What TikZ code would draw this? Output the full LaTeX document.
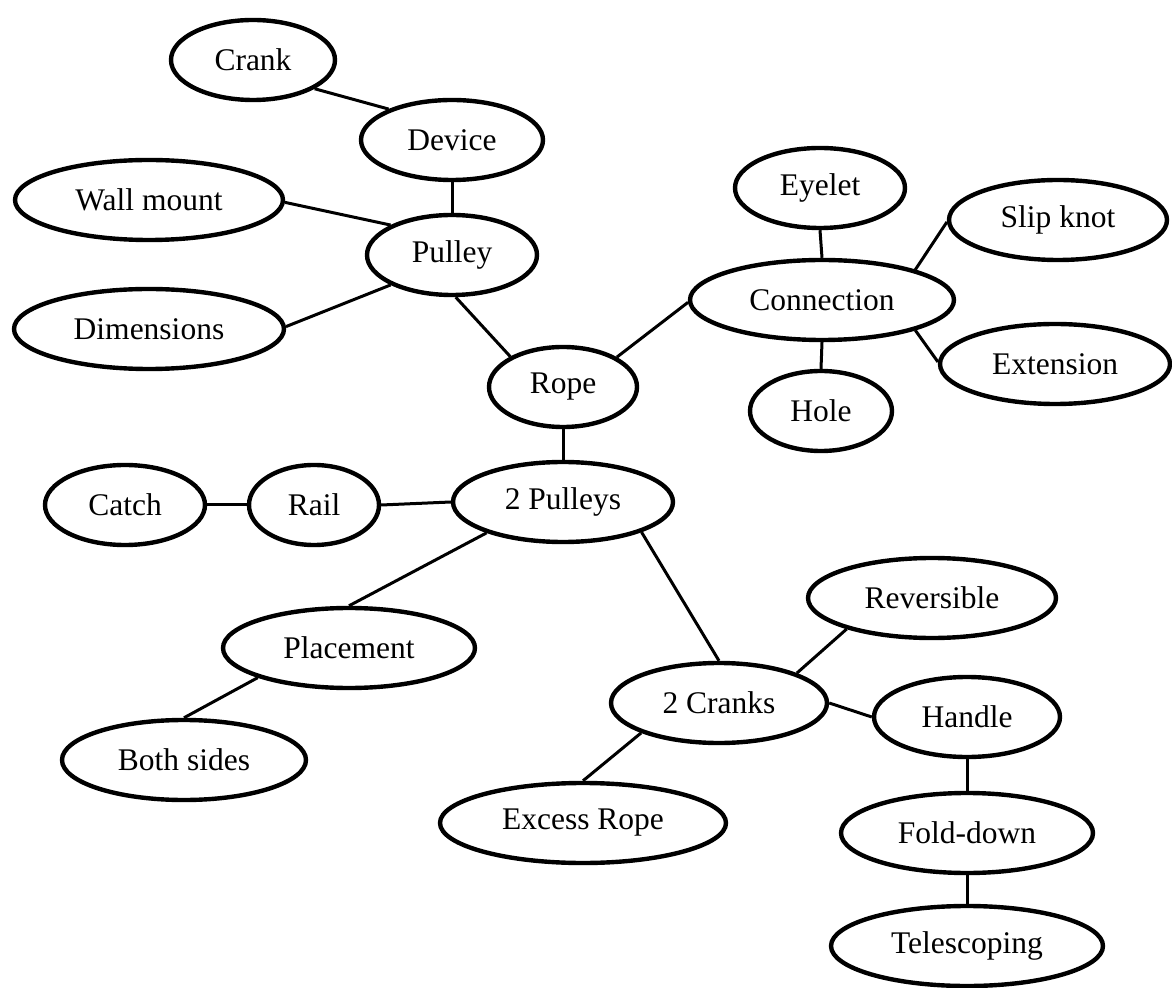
\documentclass[tikz,border=0pt]{standalone}
\usepackage{fontspec}
\setmainfont{Liberation Serif}
\usetikzlibrary{shapes.geometric}
\begin{document}
\begin{tikzpicture}[x=0.5pt,y=-0.5pt,
  topic/.style={ellipse, draw=black, line width=2.2pt, inner sep=0pt,
    minimum height=40pt, font=\fontsize{15.75pt}{18pt}\selectfont},
  link/.style={draw=black, line width=1.5pt}]
\useasboundingbox (0,0) rectangle (1172,988);
% nodes
\node[topic, minimum width=82pt]  (crank)   at (253,60)  {Crank};
\node[topic, minimum width=91pt]  (device)  at (452,140) {Device};
\node[topic, minimum width=134pt] (wall)    at (149,200) {Wall mount};
\node[topic, minimum width=85pt]  (pulley)  at (452,255) {Pulley};
\node[topic, minimum width=135pt] (dims)    at (149,329) {Dimensions};
\node[topic, minimum width=85pt]  (eyelet)  at (820,188) {Eyelet};
\node[topic, minimum width=109pt] (slip)    at (1058,220) {Slip knot};
\node[topic, minimum width=132pt] (conn)    at (822,300) {Connection};
\node[topic, minimum width=115pt] (ext)     at (1055,364) {Extension};
\node[topic, minimum width=71pt]  (hole)    at (821,411) {Hole};
\node[topic, minimum width=74pt]  (rope)    at (563,387) {Rope};
\node[topic, minimum width=110pt] (pulleys) at (563,502) {2 Pulleys};
\node[topic, minimum width=80pt]  (catch)   at (125,505) {Catch};
\node[topic, minimum width=65pt]  (rail)    at (314,505) {Rail};
\node[topic, minimum width=126pt] (place)   at (349,648) {Placement};
\node[topic, minimum width=122pt] (both)    at (184,760) {Both sides};
\node[topic, minimum width=124pt] (rev)     at (932,598) {Reversible};
\node[topic, minimum width=108pt] (cranks)  at (719,703) {2 Cranks};
\node[topic, minimum width=93pt]  (handle)  at (967,717) {Handle};
\node[topic, minimum width=143pt] (excess)  at (583,823) {Excess Rope};
\node[topic, minimum width=126pt] (fold)    at (967,833) {Fold-down};
\node[topic, minimum width=136pt] (tele)    at (967,946) {Telescoping};
% connectors
\draw[link] (crank.-25) -- (device.154);
\draw[link] (device.south) -- (pulley.north);
\draw[link] (wall.-1) -- (pulley.154);
\draw[link] (dims.1) -- (pulley.206);
\draw[link] (pulley.275) -- (rope.150);
\draw[link] (rope.29) -- (conn.181);
\draw[link] (eyelet.south) -- (conn.north);
\draw[link] (slip.181) -- (conn.18);
\draw[link] (conn.-18) -- (ext.179);
\draw[link] (conn.south) -- (hole.north);
\draw[link] (rope.south) -- (pulleys.north);
\draw[link] (catch.east) -- (rail.west);
\draw[link] (rail.east) -- (pulleys.west);
\draw[link] (pulleys.202) -- (place.north);
\draw[link] (pulleys.-21) -- (cranks.north);
\draw[link] (place.198) -- (both.north);
\draw[link] (cranks.21) -- (rev.200);
\draw[link] (cranks.east) -- (handle.west);
\draw[link] (cranks.201) -- (excess.north);
\draw[link] (handle.south) -- (fold.north);
\draw[link] (fold.south) -- (tele.north);
\end{tikzpicture}
\end{document}
